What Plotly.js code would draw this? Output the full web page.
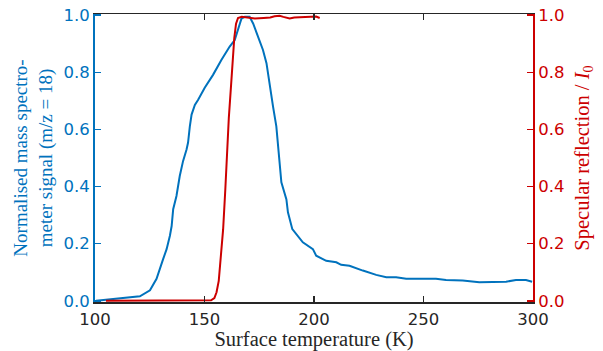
<!DOCTYPE html>
<html>
<head>
<meta charset="utf-8">
<script src="https://cdn.plot.ly/plotly-3.0.1.min.js"></script>
<style>html,body{margin:0;padding:0;background:#fff;}#chart{width:603px;height:351px;}</style>
</head>
<body>
<div id="chart"></div>
<script>
// Mass spectrometer signal (m/z = 18), normalised
const msTemp = [100.5,106.8,116.0,120.5,125.1,128.1,131.1,132.7,134.2,135.0,135.7,137.2,138.7,140.2,141.8,142.5,143.3,144.1,145.6,147.1,150.1,153.9,157.7,161.5,163.8,165.3,166.9,168.4,170.6,172.2,174.4,176.7,178.3,179.8,181.3,182.8,184.3,185.1,187.4,188.1,190.1,194.9,199.5,201.0,205.6,210.2,212.4,216.2,222.3,228.4,233.0,237.5,242.1,248.1,255.7,260.3,267.9,275.5,283.1,287.7,292.2,296.8,299.6];
const msSignal = [0.000,0.005,0.010,0.016,0.037,0.077,0.146,0.181,0.228,0.262,0.321,0.367,0.437,0.489,0.530,0.554,0.611,0.652,0.686,0.704,0.746,0.791,0.843,0.890,0.913,0.954,0.988,0.994,0.994,0.971,0.924,0.878,0.832,0.750,0.680,0.611,0.495,0.415,0.355,0.310,0.251,0.205,0.181,0.158,0.140,0.135,0.126,0.123,0.106,0.091,0.083,0.083,0.077,0.077,0.077,0.073,0.071,0.065,0.065,0.067,0.073,0.073,0.067];

// Specular reflection / I0
const srTemp = [105,130,150,153,154.5,155.5,156.5,157.5,158.5,159.5,160.3,161.1,162.0,162.8,163.6,164.4,165.3,167,170,173,177,180,182,184.3,186,188.9,191,195,198,201,202.6];
const srValue = [0,0,0,0.002,0.01,0.03,0.07,0.15,0.25,0.39,0.53,0.64,0.74,0.84,0.92,0.97,0.99,0.994,0.99,0.988,0.99,0.992,0.996,0.998,0.994,0.988,0.992,0.993,0.994,0.995,0.99];

const xTicks = [100,150,200,250,300];
const yTicks = [0,0.2,0.4,0.6,0.8,1.0];
const yTickText = ['0.0','0.2','0.4','0.6','0.8','1.0'];

const BLUE = '#0072BD';
const RED = '#CC0000';
const DARK = '#262626';

const traces = [
  {x: msTemp, y: msSignal, type: 'scatter', mode: 'lines', line: {color: BLUE, width: 2}, yaxis: 'y', hoverinfo: 'skip'},
  {x: srTemp, y: srValue, type: 'scatter', mode: 'lines', line: {color: RED, width: 2}, yaxis: 'y2', hoverinfo: 'skip'}
];

const SANS = 'DejaVu Sans, sans-serif';
const SERIF = 'Liberation Serif, serif';
const layout = {
  width: 603, height: 351,
  margin: {l: 95, r: 70, t: 14, b: 49},
  paper_bgcolor: '#fff', plot_bgcolor: '#fff',
  showlegend: false,
  xaxis: {
    range: [100, 300], tickvals: xTicks, ticktext: xTicks.map(String),
    ticks: 'inside', ticklen: 6, tickwidth: 1.5, tickcolor: DARK,
    showline: true, linecolor: DARK, linewidth: 1.5, mirror: 'ticks',
    showgrid: false, zeroline: false,
    tickfont: {family: SANS, size: 16.5, color: DARK},
    ticklabelstandoff: 2,
    title: {text: 'Surface temperature (K)', font: {family: SERIF, size: 20.5, color: DARK}, standoff: 8}
  },
  yaxis: {
    range: [-0.004, 1.004], tickvals: yTicks, ticktext: yTickText,
    ticks: 'inside', ticklen: 6, tickwidth: 1.5, tickcolor: BLUE,
    showline: true, linecolor: BLUE, linewidth: 2,
    showgrid: false, zeroline: false,
    tickfont: {family: SANS, size: 16.5, color: BLUE},
    title: {text: 'Normalised mass spectro-<br>meter signal (m/z = 18)', font: {family: SERIF, size: 19, color: BLUE}, standoff: 6}
  },
  yaxis2: {
    overlaying: 'y', side: 'right',
    range: [-0.004, 1.004], tickvals: yTicks, ticktext: yTickText,
    ticks: 'inside', ticklen: 6, tickwidth: 1.5, tickcolor: RED,
    showline: true, linecolor: RED, linewidth: 2,
    showgrid: false, zeroline: false,
    tickfont: {family: SANS, size: 16.5, color: RED},
    title: {text: 'Specular reflection / <i>I</i><sub>0</sub>', font: {family: SERIF, size: 20.5, color: RED}, standoff: 11}
  }
};

Plotly.newPlot('chart', traces, layout, {displayModeBar: false, staticPlot: true});
</script>
</body>
</html>
